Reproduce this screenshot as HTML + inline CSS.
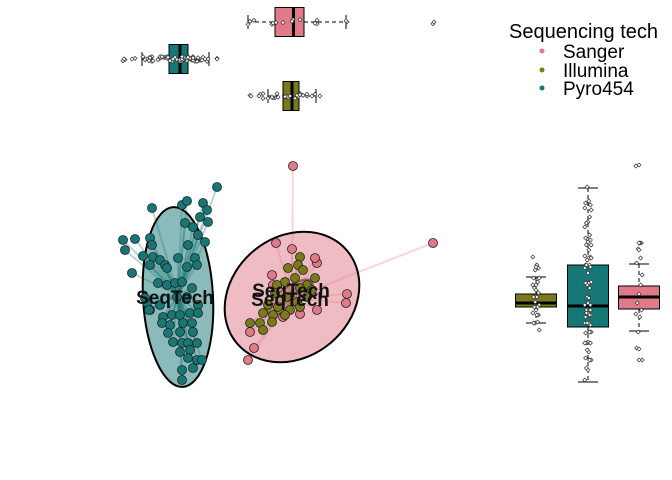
<!DOCTYPE html>
<html><head><meta charset="utf-8"><style>
body{margin:0;background:#fff}
svg{display:block;font-family:"Liberation Sans",sans-serif}
</style></head><body>
<svg id="chart" width="672" height="480">
<g id="spiders"></g>
<g id="ellipses"></g>
<g id="points"></g>
<g id="labels"></g>
<g id="topbox"></g>
<g id="rightbox"></g>
<g>
<text x="509" y="38" font-size="20">Sequencing tech</text>
<circle cx="542" cy="51" r="2.5" fill="#e07a88"/>
<text x="563" y="58" font-size="19">Sanger</text>
<circle cx="542" cy="70" r="2.5" fill="#7a7a1a"/>
<text x="563" y="77" font-size="19">Illumina</text>
<circle cx="542" cy="88" r="2.5" fill="#157876"/>
<text x="563" y="95" font-size="19">Pyro454</text>
</g>
</svg>
<script>
const groups = ["Sanger","Illumina","Pyro454"];
const colors = ["#e07a88","#7a7a1a","#157876"];
const fills = ["rgba(224,122,136,0.5)","rgba(122,90,60,0.35)","rgba(21,120,118,0.5)"];
const sangerX = [0.03,1.43,-0.14,0.02,0.27,-0.18,-0.17,0.57,0.56,0.10,0.27,-0.07,-0.40,-0.36,-0.42,0.25];
const sangerY = [1.31,0.54,0.54,0.48,0.34,0.22,0.12,0.03,-0.06,-0.17,-0.13,-0.20,-0.35,-0.51,-0.63,0.39];
const illuminaX = [0.10,-0.02,0.08,0.13,0.25,0.05,-0.05,0.17,0.10,-0.13,-0.15,-0.03,0.07,0.17,-0.22,-0.12,0.00,0.10,-0.27,-0.17,-0.05,-0.40,-0.30,-0.27,-0.18,0.22];
const illuminaY = [0.40,0.29,0.32,0.27,0.19,0.19,0.15,0.12,0.09,0.12,0.04,0.00,-0.05,0.00,-0.08,-0.10,-0.13,-0.10,-0.16,-0.18,-0.18,-0.26,-0.26,-0.33,-0.25,0.07];
const pyroX = [-1.38,-1.08,-1.03,-0.73,-0.87,-0.83,-0.90,-0.82,-1.05,-0.97,-1.67,-1.65,-1.55,-1.40,-1.38,-0.92,-0.85,-1.02,-1.47,-1.37,-1.12,-1.30,-1.25,-0.95,-0.93,-1.58,-1.40,-1.23,-1.03,-1.32,-1.23,-1.15,-1.08,-0.98,-1.43,-1.40,-1.30,-0.92,-1.13,-1.03,-1.27,-1.18,-1.10,-1.00,-0.92,-1.28,-1.20,-1.07,-0.98,-1.22,-1.10,-0.97,-1.17,-1.08,-1.02,-0.93,-1.10,-1.00,-1.02,-0.93,-0.88,-1.08,-0.97,-1.08,-1.41,-1.45];
const pyroY = [0.89,0.92,0.96,1.10,0.94,0.87,0.80,0.75,0.74,0.70,0.57,0.47,0.58,0.59,0.52,0.62,0.55,0.52,0.41,0.40,0.39,0.37,0.32,0.39,0.32,0.24,0.32,0.29,0.30,0.14,0.12,0.14,0.15,0.09,-0.06,-0.13,-0.08,-0.08,0.00,0.00,-0.20,-0.18,-0.18,-0.16,-0.16,-0.26,-0.28,-0.26,-0.26,-0.36,-0.35,-0.35,-0.45,-0.46,-0.46,-0.46,-0.55,-0.53,-0.61,-0.63,-0.63,-0.73,-0.71,-0.83,-0.13,-0.01];
// boxplot stats: [min, q1, median, q3, max]
const boxPC1 = [[-0.42,-0.15,0.035,0.14,0.56],[-0.22,-0.07,0.02,0.09,0.26],[-1.48,-1.21,-1.10,-1.02,-0.81]];
const outPC1 = [[1.44],[-0.39,-0.31,0.30],[-1.66,-0.73]];
const boxPC2 = [[0.33,0.11,0.00,-0.12,-0.34],[0.20,0.03,-0.06,-0.10,-0.26],[1.09,0.32,-0.09,-0.30,-0.85]];
const outPC2 = [[1.32,0.54,0.47,-0.52,-0.63],[0.30],[]];
const centX = [0.02,0.0,-1.12], centY = [-0.01,0.00,0.02];
const ellCx=[0.02,0.0,-1.12], ellCy=[0.00,0.00,0.00], ellRx=[0.72,0.27,0.35], ellRy=[0.6,0.1,0.9], ellRot=[-40,-35,-3];

const xs = v => 290 + v*100;
const ys = v => 297 - v*100;
const NS="http://www.w3.org/2000/svg";
function mk(tag, attrs, parent){const e=document.createElementNS(NS,tag);for(const k in attrs)e.setAttribute(k,attrs[k]);parent.appendChild(e);return e;}
const X=[sangerX,illuminaX,pyroX], Y=[sangerY,illuminaY,pyroY];
const sp=document.getElementById('spiders'), el=document.getElementById('ellipses'), pt=document.getElementById('points'), lb=document.getElementById('labels');
const tb=document.getElementById('topbox'), rb=document.getElementById('rightbox');
[2,0,1].forEach(g=>{
  X[g].forEach((x,i)=>{
    const l=mk('line',{x1:xs(centX[g]),y1:ys(centY[g]),x2:xs(x),y2:ys(Y[g][i]),stroke:colors[g],'stroke-opacity':0.3,'stroke-width':2},sp);
    
    
  });
});
[2,0,1].forEach(g=>{
  const e=mk('ellipse',{cx:xs(ellCx[g]),cy:ys(ellCy[g]),rx:ellRx[g]*100,ry:ellRy[g]*100,fill:fills[g],stroke:g==1?'rgba(90,60,40,0.6)':'#000','stroke-width':2,transform:`rotate(${ellRot[g]} ${xs(ellCx[g])} ${ys(ellCy[g])})`},el);
  
  
});
[2,0,1].forEach(g=>{
  X[g].forEach((x,i)=>{
    const c=mk('circle',{cx:xs(x),cy:ys(Y[g][i]),r:4.5,fill:colors[g],stroke:'#222','stroke-width':0.8},pt);
    
    
  });
});
[[-1.15,-0.07],[0.01,0.0],[0.0,-0.09]].forEach((p,k)=>{
  const t=mk('text',{x:xs(p[0]),y:ys(p[1]),'font-size':19,'font-weight':'bold','text-anchor':'middle',fill:'#111'},lb);
  t.textContent='SeqTech';
  
  
});
function diamond(cx,cy,parent){const d=mk('path',{d:`M${cx-2},${cy}L${cx},${cy-2}L${cx+2},${cy}L${cx},${cy+2}Z`,fill:'#fff',stroke:'#333','stroke-width':0.7},parent);return d;}
const topY=[22,96,59], rightX=[639,536,588];
[0,1,2].forEach(g=>{
  const s=boxPC1[g].map(xs), cy=topY[g];
  const w=mk('line',{x1:s[0],x2:s[1],y1:cy,y2:cy,stroke:'#000','stroke-dasharray':'4,3'},tb);
  const w2=mk('line',{x1:s[3],x2:s[4],y1:cy,y2:cy,stroke:'#000','stroke-dasharray':'4,3'},tb);
  [s[0],s[4]].forEach(v=>{const c=mk('line',{x1:v,x2:v,y1:cy-7,y2:cy+7,stroke:'#000'},tb);});
  const b=mk('rect',{x:s[1],y:cy-14.5,width:s[3]-s[1],height:29,fill:colors[g],stroke:'#000','stroke-width':1},tb);
  
  
  const m=mk('line',{x1:s[2],x2:s[2],y1:cy-14.5,y2:cy+14.5,stroke:'#000','stroke-width':3},tb);
  X[g].forEach((x,i)=>{const d=diamond(xs(x),cy+((i*7)%9-4)*0.6,tb);});
  outPC1[g].forEach(v=>{const d=diamond(xs(v),cy,tb);});

  const r=boxPC2[g].map(ys), cx=rightX[g];
  [[r[0],r[1]],[r[3],r[4]]].forEach(p=>{const l=mk('line',{x1:cx,x2:cx,y1:p[0],y2:p[1],stroke:'#000','stroke-dasharray':'4,3'},rb);});
  [r[0],r[4]].forEach(v=>{const c=mk('line',{x1:cx-10,x2:cx+10,y1:v,y2:v,stroke:'#000'},rb);});
  const rb2=mk('rect',{x:cx-20.5,y:r[1],width:41,height:r[3]-r[1],fill:colors[g],stroke:'#000','stroke-width':1},rb);
  
  
  const rm=mk('line',{x1:cx-20.5,x2:cx+20.5,y1:r[2],y2:r[2],stroke:'#000','stroke-width':3},rb);
  Y[g].forEach((y,i)=>{const d=diamond(cx+((i*7)%9-4)*0.8,ys(y),rb);});
  outPC2[g].forEach(v=>{const d=diamond(cx,ys(v),rb);});
});
</script>
</body></html>
